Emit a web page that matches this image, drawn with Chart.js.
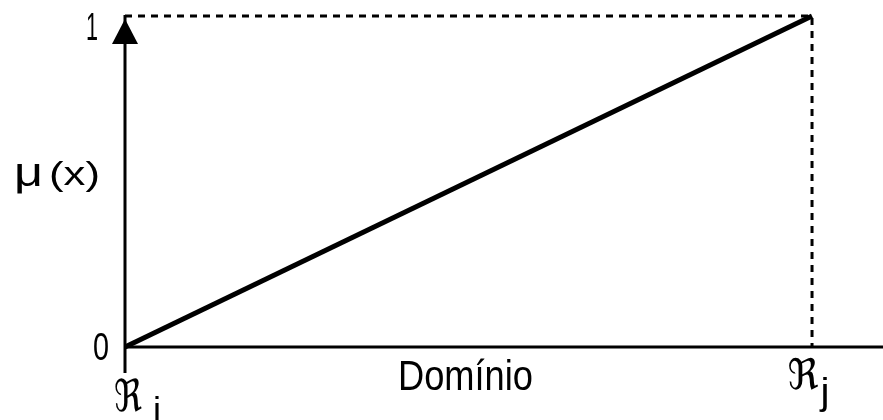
<!DOCTYPE html>
<html>
<head>
<meta charset="utf-8">
<script src="https://cdn.jsdelivr.net/npm/chart.js@4"></script>
<style>
  html, body { margin: 0; padding: 0; background: #fff; }
  #wrap { width: 883px; height: 420px; }
</style>
</head>
<body>
<div id="wrap"><canvas id="myChart"></canvas></div>
<script>
'use strict';

// data
const domain = [0, 1];          // from Ri to Rj
const membership = [0, 1];      // mu(x)
const boundX = [0, 1, 1];
const boundY = [1, 1, 0];
const yTickLabels = ['0', '1'];
const xTickLabels = ['ℜ', 'ℜ'];
const xTickSubs = ['i', 'j'];
const yTitle = ['μ', '(x)'];
const xTitle = 'Domínio';

const LATIN = '"Liberation Sans", Arial, sans-serif';
const FRAK = '"DejaVu Sans", sans-serif';

// draw text squeezed to a given width
const fitText = (ctx, text, size, family, x, y, width, align) => {
  ctx.save();
  ctx.font = size + 'px ' + family;
  const w = ctx.measureText(text).width;
  ctx.translate(x, y);
  ctx.scale(width / w, 1);
  ctx.textAlign = align || 'left';
  ctx.textBaseline = 'alphabetic';
  ctx.fillStyle = '#000';
  ctx.fillText(text, 0, 0);
  ctx.restore();
};

// axes + labels plugin
const fuzzyAxes = {
  id: 'fuzzyAxes',
  afterDraw(chart) {
    const { ctx, scales: { x, y } } = chart;
    const x0 = x.getPixelForValue(0);
    const y0 = y.getPixelForValue(0);
    const y1 = y.getPixelForValue(1);
    const x1 = x.getPixelForValue(1);
    ctx.save();
    ctx.strokeStyle = '#000';
    ctx.fillStyle = '#000';
    ctx.lineWidth = 3;
    // y axis
    ctx.beginPath();
    ctx.moveTo(x0, y1 - 1);
    ctx.lineTo(x0, y0 + 26);
    ctx.stroke();
    // arrow head
    ctx.beginPath();
    ctx.moveTo(x0, y1 + 3);
    ctx.lineTo(x0 + 13, y1 + 28);
    ctx.lineTo(x0 - 13, y1 + 28);
    ctx.closePath();
    ctx.fill();
    // x axis
    ctx.beginPath();
    ctx.moveTo(x0, y0);
    ctx.lineTo(chart.width, y0);
    ctx.stroke();
    ctx.restore();

    // y ticks
    fitText(ctx, yTickLabels[1], 38, LATIN, 92, y1 + 24, 12, 'center');
    fitText(ctx, yTickLabels[0], 39, LATIN, 101, y0 + 13, 16, 'center');
    // y title
    fitText(ctx, yTitle[0], 40, LATIN, 14, 186, 29, 'left');
    fitText(ctx, yTitle[1], 33, LATIN, 49, 185, 51, 'left');
    // x title
    fitText(ctx, xTitle, 42, LATIN, 398, 390, 135, 'left');
    // x ticks
    fitText(ctx, xTickLabels[0], 44, FRAK, x0 + 3, 411, 28, 'center');
    fitText(ctx, xTickSubs[0], 36, LATIN, 157, 423, 8, 'center');
    fitText(ctx, xTickLabels[1], 42, FRAK, x1 - 9, 389, 31, 'center');
    fitText(ctx, xTickSubs[1], 36, LATIN, 825, 404, 9, 'center');
  }
};

const config = {
  type: 'scatter',
  data: {
    datasets: [{
      data: domain.map((d, i) => ({ x: d, y: membership[i] })),
      showLine: true,
      borderColor: '#000',
      borderWidth: 5,
      pointRadius: 0,
      clip: false
    }, {
      data: boundX.map((d, i) => ({ x: d, y: boundY[i] })),
      showLine: true,
      borderColor: '#000',
      borderWidth: 3,
      borderDash: [7, 6],
      pointRadius: 0,
      clip: false
    }]
  },
  options: {
    responsive: true,
    maintainAspectRatio: false,
    animation: false,
    layout: { padding: { left: 125, right: 0, top: 16, bottom: 73 } },
    plugins: { legend: { display: false }, tooltip: { enabled: false } },
    scales: {
      x: { type: 'linear', min: 0, max: 1.1033, display: false },
      y: { type: 'linear', min: 0, max: 1, display: false }
    }
  },
  plugins: [fuzzyAxes]
};

const myChart = new Chart(document.getElementById('myChart'), config);
</script>
</body>
</html>
